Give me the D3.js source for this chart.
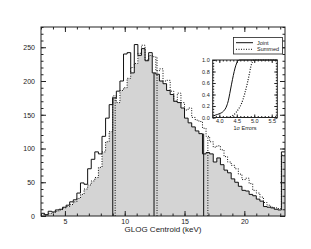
<!DOCTYPE html>
<html>
<head>
<meta charset="utf-8">
<script src="https://cdn.jsdelivr.net/npm/d3@7"></script>
<style>
body { margin: 0; background: #fff; }
text { font-family: "Liberation Sans", Arial, sans-serif; fill: #222; }
</style>
</head>
<body>
<script>

var w = 311;
var h = 249;

// histogram bins: 0.3 keV wide, starting at 3 keV
var binStart = 3;
var binWidth = 0.3;

var joint = [4, 2, 7, 6, 9, 10, 13, 16, 21, 24,
             34, 49, 47, 70, 84, 95, 92, 118, 145, 165,
             175, 185, 200, 240, 242, 212, 254, 238, 248, 230,
             242, 212, 210, 200, 196, 186, 180, 170, 168, 160,
             145, 138, 132, 126, 122, 92, 94, 92, 80, 86,
             76, 68, 64, 55, 50, 44, 38, 37, 32, 30,
             25, 22, 14, 13, 12, 10, 9, 95];

var summed = [2, 1, 4, 5, 7, 9, 12, 14, 17, 21,
              26, 32, 40, 46, 52, 57, 72, 95, 110, 125,
              178, 168, 186, 190, 204, 220, 226, 241, 253, 231,
              238, 236, 215, 218, 200, 201, 185, 170, 182, 168,
              157, 160, 146, 142, 140, 130, 118, 110, 102, 104,
              98, 88, 80, 75, 70, 62, 54, 56, 48, 38,
              34, 28, 20, 16, 13, 12, 11, 90];

var jointLines = [9.0, 12.45, 16.6];
var summedLines = [9.2, 12.7, 16.95];

var xTicks = [5, 10, 15, 20];
var yTicks = [0, 50, 100, 150, 200, 250];

// inset: cumulative distributions of the 1 sigma errors
var cdfJointX = [3.81, 3.88, 4.02, 4.12, 4.21, 4.26, 4.30, 4.35, 4.40, 4.45, 4.50, 4.54, 4.59, 5.66];
var cdfJointY = [0.02, 0.04, 0.07, 0.11, 0.20, 0.30, 0.42, 0.58, 0.73, 0.86, 0.95, 0.99, 1.0, 1.0];
var cdfSummedX = [3.81, 4.21, 4.40, 4.54, 4.64, 4.73, 4.80, 4.86, 4.90, 4.95, 4.99, 5.66];
var cdfSummedY = [0.0, 0.0, 0.04, 0.14, 0.25, 0.42, 0.59, 0.76, 0.88, 0.97, 1.0, 1.0];

var insetXTicks = [4.0, 4.5, 5.0, 5.5];
var insetYTicks = [0, 0.2, 0.4, 0.6, 0.8, 1.0];
var legendLabels = ["Joint", "Summed"];

var svg = d3.select("body")
        .append("svg")
        .attr("width", w)
        .attr("height", h);

var pLeft = 41, pTop = 27, pRight = 285, pBottom = 216;

var x = d3.scaleLinear().domain([3, 23.4]).range([pLeft, pRight]);
var y = d3.scaleLinear().domain([0, 280]).range([pBottom, pTop]);

function steps(vals) {
    var pts = vals.map(function(v, i) { return [binStart + i * binWidth, v]; });
    pts.push([binStart + vals.length * binWidth, vals[vals.length - 1]]);
    return pts;
}

var overlap = joint.map(function(v, i) { return Math.min(v, summed[i]); });

var area = d3.area()
        .curve(d3.curveStepAfter)
        .x(function(d) { return x(d[0]); })
        .y0(y(0))
        .y1(function(d) { return y(d[1]); });

var line = d3.line()
        .curve(d3.curveStepAfter)
        .x(function(d) { return x(d[0]); })
        .y(function(d) { return y(d[1]); });

svg.append("path")
    .attr("d", area(steps(overlap)))
    .attr("fill", "#d4d4d4");

svg.append("path")
    .attr("d", line(steps(summed)))
    .attr("fill", "none")
    .attr("stroke", "#111")
    .attr("stroke-width", 1)
    .attr("stroke-dasharray", "1,1.5");

svg.append("path")
    .attr("d", line(steps(joint)))
    .attr("fill", "none")
    .attr("stroke", "#111")
    .attr("stroke-width", 1);

// vertical marker lines, up to the histogram height
function heightAt(vals, xv) {
    var k = (xv - binStart) / binWidth;
    return Math.max(vals[Math.floor(k)], vals[Math.floor(k - 0.5)]);
}

svg.selectAll("line.jl")
    .data(jointLines)
    .enter().append("line")
    .attr("class", "jl")
    .attr("x1", function(d) { return x(d); })
    .attr("x2", function(d) { return x(d); })
    .attr("y1", y(0))
    .attr("y2", function(d) { return y(heightAt(joint, d)); })
    .attr("stroke", "#111");

svg.selectAll("line.sl")
    .data(summedLines)
    .enter().append("line")
    .attr("class", "sl")
    .attr("x1", function(d) { return x(d); })
    .attr("x2", function(d) { return x(d); })
    .attr("y1", y(0))
    .attr("y2", function(d) { return y(heightAt(summed, d)); })
    .attr("stroke", "#111")
    .attr("stroke-dasharray", "1,1.5");

// axes with inward ticks on all four sides
function clean(g) {
    g.select(".domain").remove();
    g.selectAll("line").attr("stroke", "#222");
    return g;
}

svg.append("g").attr("transform", "translate(0," + pBottom + ")")
    .call(d3.axisBottom(x).tickValues(d3.range(3, 24, 1)).tickSize(-2.5).tickFormat(""))
    .call(clean);
svg.append("g").attr("transform", "translate(0," + pBottom + ")")
    .call(d3.axisBottom(x).tickValues(xTicks).tickSize(-5).tickPadding(3).tickFormat(d3.format("d")))
    .call(clean)
    .selectAll("text").attr("font-size", 7).style("font-family", "Liberation Sans, Arial, sans-serif");

svg.append("g").attr("transform", "translate(0," + pTop + ")")
    .call(d3.axisTop(x).tickValues(d3.range(3, 24, 1)).tickSize(-2.5).tickFormat(""))
    .call(clean);
svg.append("g").attr("transform", "translate(0," + pTop + ")")
    .call(d3.axisTop(x).tickValues(xTicks).tickSize(-5).tickFormat(""))
    .call(clean);

svg.append("g").attr("transform", "translate(" + pLeft + ",0)")
    .call(d3.axisLeft(y).tickValues(d3.range(0, 281, 10)).tickSize(-2.5).tickFormat(""))
    .call(clean);
svg.append("g").attr("transform", "translate(" + pLeft + ",0)")
    .call(d3.axisLeft(y).tickValues(yTicks).tickSize(-5).tickPadding(6))
    .call(clean)
    .selectAll("text").attr("font-size", 7).style("font-family", "Liberation Sans, Arial, sans-serif");

svg.append("g").attr("transform", "translate(" + pRight + ",0)")
    .call(d3.axisRight(y).tickValues(d3.range(0, 281, 10)).tickSize(-2.5).tickFormat(""))
    .call(clean);
svg.append("g").attr("transform", "translate(" + pRight + ",0)")
    .call(d3.axisRight(y).tickValues(yTicks).tickSize(-5).tickFormat(""))
    .call(clean);

svg.append("rect")
    .attr("x", pLeft).attr("y", pTop)
    .attr("width", pRight - pLeft).attr("height", pBottom - pTop)
    .attr("fill", "none").attr("stroke", "#222");

svg.append("text")
    .attr("x", (pLeft + pRight) / 2)
    .attr("y", 232)
    .attr("text-anchor", "middle")
    .attr("font-size", 8)
    .text("GLOG Centroid (keV)");

// legend
var lg = svg.append("g");
lg.append("rect")
    .attr("x", 233.5).attr("y", 37.5)
    .attr("width", 49).attr("height", 16.5)
    .attr("fill", "#fff").attr("stroke", "#222").attr("stroke-width", 0.8);
legendLabels.forEach(function(name, i) {
    var ly = 42.7 + i * 6.6;
    lg.append("line")
        .attr("x1", 236).attr("x2", 253)
        .attr("y1", ly).attr("y2", ly)
        .attr("stroke", "#111")
        .attr("stroke-dasharray", i == 1 ? "1,1.5" : null);
    lg.append("text")
        .attr("x", 257).attr("y", ly + 2)
        .attr("font-size", 5.5)
        .text(name);
});

// inset
var ix = d3.scaleLinear().domain([3.81, 5.66]).range([212.7, 277.3]);
var iy = d3.scaleLinear().domain([0, 1]).range([117.5, 60]);

svg.append("rect")
    .attr("x", 212.7).attr("y", 60)
    .attr("width", 277.3 - 212.7).attr("height", 57.5)
    .attr("fill", "#fff");

var cdfLine = d3.line()
        .curve(d3.curveMonotoneX)
        .x(function(d) { return ix(d[0]); })
        .y(function(d) { return iy(d[1]); });

svg.append("path")
    .attr("d", cdfLine(cdfJointX.map(function(v, i) { return [v, cdfJointY[i]]; })))
    .attr("fill", "none").attr("stroke", "#111");

svg.append("path")
    .attr("d", cdfLine(cdfSummedX.map(function(v, i) { return [v, cdfSummedY[i]]; })))
    .attr("fill", "none").attr("stroke", "#111")
    .attr("stroke-width", 1.2)
    .attr("stroke-dasharray", "1,1.5");

svg.append("g").attr("transform", "translate(0,117.5)")
    .call(d3.axisBottom(ix).tickValues(d3.range(3.9, 5.65, 0.1)).tickSize(-1.5).tickFormat(""))
    .call(clean);
svg.append("g").attr("transform", "translate(0,117.5)")
    .call(d3.axisBottom(ix).tickValues(insetXTicks).tickSize(-3).tickPadding(2).tickFormat(d3.format(".1f")))
    .call(clean)
    .selectAll("text").attr("font-size", 5.5).style("font-family", "Liberation Sans, Arial, sans-serif");
svg.append("g").attr("transform", "translate(0,60)")
    .call(d3.axisTop(ix).tickValues(d3.range(3.9, 5.65, 0.1)).tickSize(-1.5).tickFormat(""))
    .call(clean);
svg.append("g").attr("transform", "translate(0,60)")
    .call(d3.axisTop(ix).tickValues(insetXTicks).tickSize(-3).tickFormat(""))
    .call(clean);
svg.append("g").attr("transform", "translate(212.7,0)")
    .call(d3.axisLeft(iy).tickValues(d3.range(0, 1.01, 0.05)).tickSize(-1.5).tickFormat(""))
    .call(clean);
svg.append("g").attr("transform", "translate(212.7,0)")
    .call(d3.axisLeft(iy).tickValues(insetYTicks).tickSize(-3).tickPadding(3).tickFormat(d3.format(".1f")))
    .call(clean)
    .selectAll("text").attr("font-size", 5.5).style("font-family", "Liberation Sans, Arial, sans-serif");
svg.append("g").attr("transform", "translate(277.3,0)")
    .call(d3.axisRight(iy).tickValues(d3.range(0, 1.01, 0.05)).tickSize(-1.5).tickFormat(""))
    .call(clean);
svg.append("g").attr("transform", "translate(277.3,0)")
    .call(d3.axisRight(iy).tickValues(insetYTicks).tickSize(-3).tickFormat(""))
    .call(clean);

svg.append("rect")
    .attr("x", 212.7).attr("y", 60)
    .attr("width", 277.3 - 212.7).attr("height", 57.5)
    .attr("fill", "none").attr("stroke", "#222");

svg.append("text")
    .attr("x", 245).attr("y", 130)
    .attr("text-anchor", "middle")
    .attr("font-size", 5.5)
    .text("1σ Errors");

</script>
</body>
</html>
